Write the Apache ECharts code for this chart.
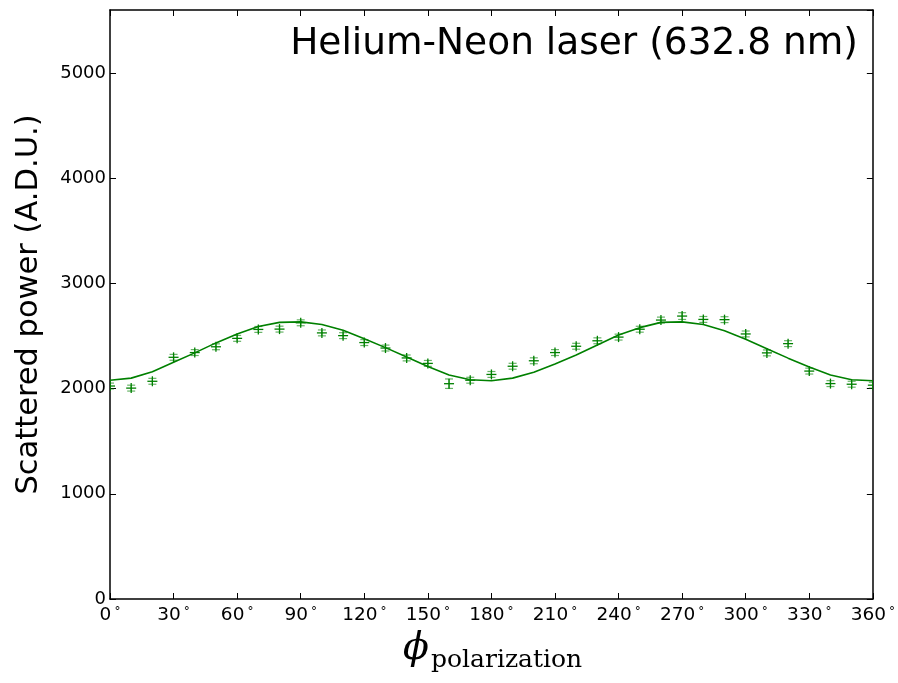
<!DOCTYPE html>
<html>
<head>
<meta charset="utf-8">
<script src="https://cdn.jsdelivr.net/npm/echarts@6/dist/echarts.min.js"></script>
<style>html,body{margin:0;padding:0;background:#fff}#c{width:898px;height:683px}</style>
</head>
<body>
<div id="c"></div>
<script>
var angles = [0,10,20,30,40,50,60,70,80,90,100,110,120,130,140,150,160,170,180,190,200,210,220,230,240,250,260,270,280,290,300,310,320,330,340,350,360];
var power = [2025,2005,2070,2298,2343,2398,2478,2563,2566,2626,2530,2504,2438,2386,2292,2240,2047,2080,2135,2213,2265,2343,2403,2455,2490,2565,2652,2690,2658,2656,2520,2340,2428,2167,2048,2042,2033];
var powerErr = [28,28,28,28,28,28,28,28,28,28,28,28,28,28,28,28,45,28,28,28,28,28,28,28,28,28,28,32,28,28,28,28,28,28,28,28,28];
var fit = [2080,2100,2160,2250,2340,2435,2520,2590,2630,2635,2610,2555,2475,2390,2300,2210,2130,2085,2075,2100,2155,2235,2320,2415,2510,2580,2630,2635,2610,2550,2470,2380,2290,2205,2130,2085,2075];
var xTicks = [0,30,60,90,120,150,180,210,240,270,300,330,360];
var yTicks = [0,1000,2000,3000,4000,5000];
var titleText = 'Helium-Neon laser (632.8 nm)';
var yName = 'Scattered power (A.D.U.)';

var chart = echarts.init(document.getElementById('c'), null, {renderer:'canvas'});
var GREEN = '#008000';
var pts = angles.map(function(a,i){return [a, power[i], powerErr[i]];});
var fitPts = angles.map(function(a,i){return [a, fit[i]];});

function axisCommon(){
  return {
    axisLine:{show:true, onZero:false, lineStyle:{color:'#000', width:1.5}},
    axisTick:{show:true, inside:true, length:6, lineStyle:{color:'#000', width:1}},
    splitLine:{show:false}
  };
}
var xBase = {type:'value', min:0, max:360, interval:30};
var yBase = {type:'value', min:0, max:5600, interval:1000};

chart.setOption({
  animation:false,
  backgroundColor:'#fff',
  grid:{left:110, right:25, top:10, bottom:84, containLabel:false},
  title:{text:titleText, right:35, top:20, textStyle:{fontFamily:'DejaVu Sans', fontSize:37.5, fontWeight:'normal', color:'#000'}},
  xAxis:[
    Object.assign({}, xBase, axisCommon(), {position:'bottom',
      axisLabel:{show:true, margin:7, fontFamily:'DejaVu Sans', fontSize:18.5, color:'#000',
        formatter:function(v){ return xTicks.indexOf(v) >= 0 ? v + '{d|°}' : ''; },
        rich:{d:{fontFamily:'DejaVu Sans', fontSize:12, color:'#000', padding:[0,0,7,3]}}}
    }),
    Object.assign({}, xBase, axisCommon(), {position:'top', axisLabel:{show:false}})
  ],
  yAxis:[
    Object.assign({}, yBase, axisCommon(), {position:'left',
      name:yName, nameLocation:'middle', nameGap:65, nameRotate:90,
      nameTextStyle:{fontFamily:'DejaVu Sans', fontSize:30.5, color:'#000'},
      axisLabel:{show:true, margin:4, fontFamily:'DejaVu Sans', fontSize:18, color:'#000', showMaxLabel:false,
        formatter:function(v){ return yTicks.indexOf(v) >= 0 ? String(v) : ''; }}
    }),
    Object.assign({}, yBase, axisCommon(), {position:'right', axisLabel:{show:false}})
  ],
  graphic:[
    {type:'text', left:403, top:630, style:{text:'ϕ', font:'italic 38px "DejaVu Serif"', fill:'#000'}},
    {type:'text', left:431, top:648, style:{text:'polarization', font:'25px "DejaVu Serif"', fill:'#000'}}
  ],
  series:[
    {type:'line', data:fitPts, xAxisIndex:0, yAxisIndex:0, showSymbol:false, symbol:'none',
     lineStyle:{color:GREEN, width:1.6}, z:2},
    {type:'custom', xAxisIndex:0, yAxisIndex:0, data:pts, clip:true, z:3,
     renderItem:function(params, api){
       var x = api.value(0), y = api.value(1), e = api.value(2);
       var c = api.coord([x,y]);
       var hi = api.coord([x,y+e]);
       var lo = api.coord([x,y-e]);
       var cap = 4, m = 5;
       return {type:'group', children:[
         {type:'line', shape:{x1:c[0], y1:hi[1], x2:c[0], y2:lo[1]}, style:{stroke:GREEN, lineWidth:1.2, opacity:0.6}},
         {type:'line', shape:{x1:c[0]-cap, y1:hi[1], x2:c[0]+cap, y2:hi[1]}, style:{stroke:GREEN, lineWidth:1.2, opacity:0.6}},
         {type:'line', shape:{x1:c[0]-cap, y1:lo[1], x2:c[0]+cap, y2:lo[1]}, style:{stroke:GREEN, lineWidth:1.2, opacity:0.6}},
         {type:'line', shape:{x1:c[0]-m, y1:c[1], x2:c[0]+m, y2:c[1]}, style:{stroke:GREEN, lineWidth:1.3}},
         {type:'line', shape:{x1:c[0], y1:c[1]-m, x2:c[0], y2:c[1]+m}, style:{stroke:GREEN, lineWidth:1.3}}
       ]};
     }}
  ]
});
</script>
</body>
</html>
